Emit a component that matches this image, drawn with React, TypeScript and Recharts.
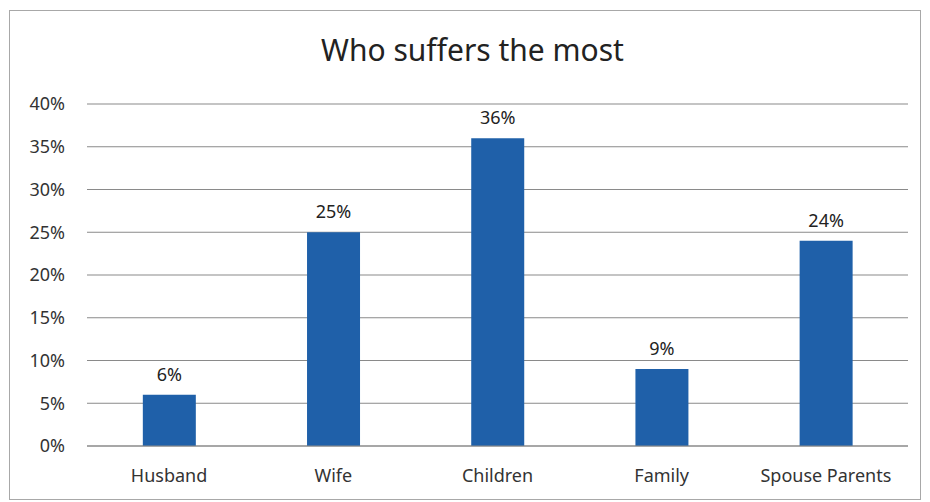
import { BarChart, Bar, XAxis, YAxis, CartesianGrid, LabelList } from "recharts";

const categories = ["Husband", "Wife", "Children", "Family", "Spouse Parents"];
const shares = [0.06, 0.25, 0.36, 0.09, 0.24];
const yTicks = [0, 0.05, 0.1, 0.15, 0.2, 0.25, 0.3, 0.35, 0.4];

const data = categories.map((name, i) => ({ name, value: shares[i] }));

const FONT = "'Noto Sans', 'Open Sans', sans-serif";
const pct = (v: number) => `${Math.round(v * 100)}%`;

export default function App() {
  return (
    <div
      style={{
        position: "absolute",
        left: 0,
        top: 0,
        width: 930,
        height: 502,
        background: "#fff",
        fontFamily: FONT,
      }}
    >
      <div
        style={{
          position: "absolute",
          left: 9,
          top: 10,
          width: 912,
          height: 490,
          border: "1.5px solid #a8a8a8",
          boxSizing: "border-box",
        }}
      />
      <div
        style={{
          position: "absolute",
          left: 0,
          width: 945,
          top: 29,
          textAlign: "center",
          fontSize: 30,
          color: "#222",
        }}
      >
        Who suffers the most
      </div>
      <div style={{ position: "absolute", left: 0, top: 0 }}>
        <BarChart
          width={930}
          height={502}
          data={data}
          margin={{ top: 104, right: 22, bottom: 0, left: 0 }}
          barCategoryGap="34%"
        >
          <CartesianGrid vertical={false} stroke="#8a8a8a" strokeWidth={1.2} />
          <XAxis
            dataKey="name"
            height={56}
            axisLine={{ stroke: "#8a8a8a" }}
            tickLine={false}
            tickSize={0}
            tickMargin={23}
            tick={{ fontSize: 18, fill: "#333", fontFamily: FONT }}
            interval={0}
          />
          <YAxis
            width={87}
            domain={[0, 0.4]}
            ticks={yTicks}
            tickFormatter={pct}
            axisLine={false}
            tickLine={false}
            tickSize={0}
            tickMargin={22}
            tick={{ fontSize: 18, fill: "#333", fontFamily: FONT }}
          />
          <Bar dataKey="value" fill="#1f60a9" isAnimationActive={false}>
            <LabelList
              dataKey="value"
              position="top"
              offset={14}
              formatter={(v: any) => pct(Number(v))}
              style={{ fontSize: 18, fill: "#222", fontFamily: FONT }}
            />
          </Bar>
        </BarChart>
      </div>
    </div>
  );
}
